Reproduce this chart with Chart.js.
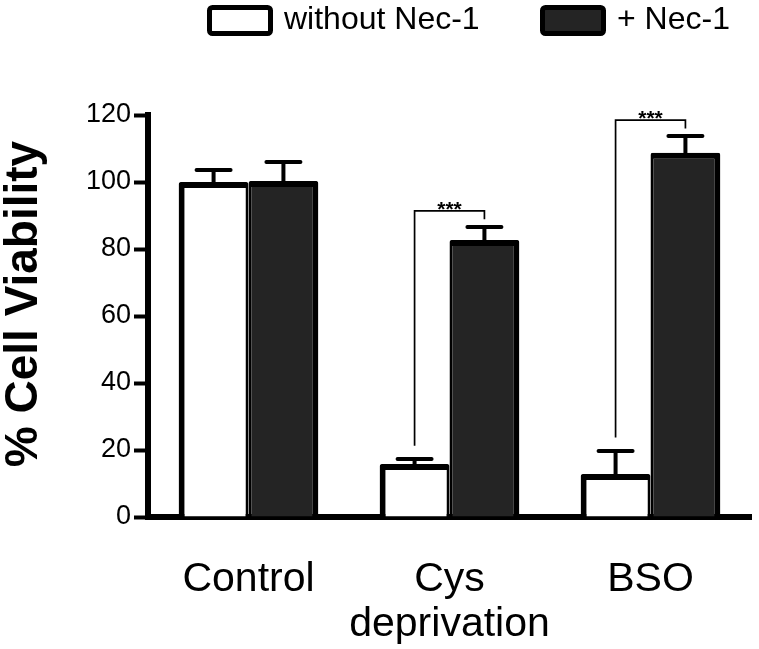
<!DOCTYPE html>
<html>
<head>
<meta charset="utf-8">
<script src="https://cdn.jsdelivr.net/npm/chart.js@4.4.1/dist/chart.umd.min.js"></script>
<style>
  html, body { margin: 0; padding: 0; background: #fff; }
  #wrap { width: 759px; height: 649px; position: relative; }
</style>
</head>
<body>
<div id="wrap"><canvas id="viability"></canvas></div>
<script>
// values (% cell viability, mean + SEM)
const categories = ["Control", ["Cys", "deprivation"], "BSO"];
const seriesNames = ["without Nec-1", "+ Nec-1"];
const withoutNec = [100, 15.8, 12.8];
const withoutNecErr = [3.6, 1.5, 6.9];
const plusNec = [100.3, 82.7, 108.7];
const plusNecErr = [5.7, 3.9, 5.0];
const yTicks = [0, 20, 40, 60, 80, 100, 120];
const yTitle = "% Cell Viability";
const sigGroups = [1, 2];       // categories with a bracket
const sigText = "***";

const FONT = "'Liberation Sans', Arial, Helvetica, sans-serif";
const errs = [withoutNecErr, plusNecErr];

// error bars (upper only) + significance brackets
const extras = {
  id: "extras",
  afterDatasetsDraw(chart) {
    const ctx = chart.ctx;
    const y = chart.scales.y;
    const metas = [chart.getDatasetMeta(0), chart.getDatasetMeta(1)];
    ctx.save();
    ctx.strokeStyle = "#000";
    ctx.lineCap = "round";
    ctx.lineWidth = 4;
    metas.forEach((meta, d) => {
      meta.data.forEach((bar, i) => {
        const v = chart.data.datasets[d].data[i];
        const top = y.getPixelForValue(v + errs[d][i]);
        ctx.beginPath();
        ctx.moveTo(bar.x, bar.y);
        ctx.lineTo(bar.x, top);
        ctx.moveTo(bar.x - 17, top);
        ctx.lineTo(bar.x + 17, top);
        ctx.stroke();
      });
    });

    ctx.lineWidth = 1.7;
    ctx.lineCap = "butt";
    sigGroups.forEach(i => {
      const a = metas[0].data[i], b = metas[1].data[i];
      const lowTop = withoutNec[i] + withoutNecErr[i];
      const highTop = plusNec[i] + plusNecErr[i];
      const yA = y.getPixelForValue(lowTop + 4);
      const yTop = y.getPixelForValue(highTop + 4.8);
      const yB = y.getPixelForValue(highTop + 2.3);
      ctx.beginPath();
      ctx.moveTo(a.x, yA);
      ctx.lineTo(a.x, yTop);
      ctx.lineTo(b.x, yTop);
      ctx.lineTo(b.x, yB);
      ctx.stroke();
      ctx.fillStyle = "#000";
      ctx.font = "bold 21px " + FONT;
      ctx.textAlign = "center";
      ctx.textBaseline = "alphabetic";
      ctx.fillText(sigText, (a.x + b.x) / 2, yTop + 5);
    });
    ctx.restore();
  }
};

// legend across the top right, y-axis title on the left
const labelsLayer = {
  id: "labelsLayer",
  afterDraw(chart) {
    const ctx = chart.ctx;
    const spots = [207, 540];
    ctx.save();
    chart.data.datasets.forEach((ds, d) => {
      const x = spots[d];
      ctx.beginPath();
      ctx.roundRect(x + 2.5, 7.5, 61, 26, 3);
      ctx.fillStyle = ds.backgroundColor;
      ctx.fill();
      ctx.lineWidth = 5;
      ctx.strokeStyle = "#000";
      ctx.stroke();
      ctx.fillStyle = "#000";
      ctx.font = "32px " + FONT;
      ctx.textBaseline = "middle";
      ctx.textAlign = "left";
      ctx.fillText(ds.label, x + 77, 20);
    });

    const area = chart.chartArea;
    ctx.translate(37, (area.top + area.bottom) / 2 - 12);
    ctx.rotate(-Math.PI / 2);
    ctx.font = "bold 46px " + FONT;
    ctx.textAlign = "center";
    ctx.textBaseline = "alphabetic";
    ctx.fillText(yTitle, 0, 0);
    ctx.restore();
  }
};

new Chart(document.getElementById("viability"), {
  type: "bar",
  data: {
    labels: categories,
    datasets: [
      {
        label: seriesNames[0],
        data: withoutNec,
        backgroundColor: "#ffffff",
        borderColor: "#000000",
        borderWidth: { left: 6, top: 6, right: 3, bottom: 0 },
        borderSkipped: false,
        borderRadius: 2
      },
      {
        label: seriesNames[1],
        data: plusNec,
        backgroundColor: "#242424",
        borderColor: "#000000",
        borderWidth: { left: 3, top: 6, right: 6, bottom: 0 },
        borderSkipped: false,
        borderRadius: 2
      }
    ]
  },
  options: {
    responsive: true,
    maintainAspectRatio: false,
    animation: false,
    layout: { padding: { top: 115, right: 8, left: 0, bottom: 0 } },
    plugins: {
      legend: { display: false },
      tooltip: { enabled: false }
    },
    datasets: { bar: { categoryPercentage: 0.695, barPercentage: 1 } },
    scales: {
      x: {
        grid: { display: false, drawTicks: false },
        border: { color: "#000", width: 6 },
        ticks: {
          color: "#000",
          font: { family: FONT, size: 41, lineHeight: 1.1 },
          padding: 40,
          maxRotation: 0,
          autoSkip: false
        },
        afterFit: s => { s.height = 132; }
      },
      y: {
        min: 0,
        max: 120,
        afterBuildTicks: s => { s.ticks = yTicks.map(v => ({ value: v })); },
        grid: { drawOnChartArea: false, drawTicks: true, tickLength: 14, tickWidth: 4, tickColor: "#000" },
        border: { color: "#000", width: 6 },
        ticks: {
          color: "#000",
          font: { family: FONT, size: 27 },
          padding: 3
        },
        afterFit: s => { s.width = 148; }
      }
    }
  },
  plugins: [extras, labelsLayer]
});
</script>
</body>
</html>
